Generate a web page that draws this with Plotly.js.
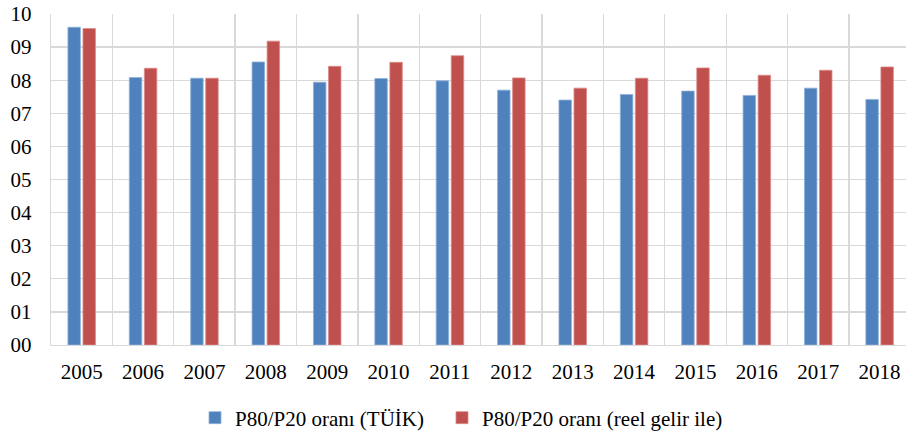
<!DOCTYPE html>
<html>
<head>
<meta charset="utf-8">
<script src="https://cdn.plot.ly/plotly-3.0.1.min.js"></script>
<style>html,body{margin:0;padding:0;background:#fff;overflow:hidden}</style>
</head>
<body>
<div id="chart" style="width:906px;height:432px"></div>
<script>
const years = ["2005","2006","2007","2008","2009","2010","2011","2012","2013","2014","2015","2016","2017","2018"];
const tuik = [9.60, 8.08, 8.06, 8.55, 7.94, 8.05, 7.98, 7.70, 7.40, 7.57, 7.67, 7.54, 7.76, 7.42];
const reel = [9.56, 8.36, 8.06, 9.18, 8.42, 8.54, 8.74, 8.07, 7.76, 8.06, 8.37, 8.15, 8.30, 8.40];
const yTickVals = [0,1,2,3,4,5,6,7,8,9,10];
const yTickText = ["00","01","02","03","04","05","06","07","08","09","10"];
const seriesNames = ["P80/P20 oranı (TÜİK)", "P80/P20 oranı (reel gelir ile)"];

const font = {family: "Liberation Serif", size: 21, color: "#000"};
const grid = "#d9d9d9";

const traces = [
  {type: "bar", x: years, y: tuik, name: seriesNames[0], legend: "legend",
   marker: {color: "#4f81bd", line: {color: "#8eb0da", width: 0.8}}},
  {type: "bar", x: years, y: reel, name: seriesNames[1], legend: "legend2",
   marker: {color: "#c0504d", line: {color: "#dc8c8a", width: 0.8}}}
];

function legendAt(x0) {
  return {orientation: "h", xref: "container", yref: "container",
          x: x0 / 906, xanchor: "left", y: 14 / 432, yanchor: "middle",
          font: font, itemclick: false, bgcolor: "rgba(0,0,0,0)"};
}

const layout = {
  width: 906, height: 432,
  margin: {l: 51, r: 0, t: 14, b: 87, pad: 0},
  paper_bgcolor: "#fff", plot_bgcolor: "#fff",
  font: font,
  barmode: "group", bargap: 0.51, bargroupgap: 0.17,
  showlegend: true,
  legend: legendAt(195),
  legend2: legendAt(442),
  xaxis: {type: "category", range: [-0.5, 13.43], tickson: "boundaries",
          showgrid: true, gridcolor: grid, gridwidth: 1.3,
          showline: true, linecolor: grid, linewidth: 1.3,
          ticks: "", ticklabelstandoff: 7, tickfont: font, fixedrange: true},
  yaxis: {range: [0, 10], tickmode: "array", tickvals: yTickVals, ticktext: yTickText,
          showgrid: true, gridcolor: grid, gridwidth: 1.3,
          showline: true, linecolor: grid, linewidth: 1.3, zeroline: false,
          ticks: "", ticklabelstandoff: 14, tickfont: font, fixedrange: true}
};

Plotly.newPlot("chart", traces, layout, {displayModeBar: false, staticPlot: true});
</script>
</body>
</html>
